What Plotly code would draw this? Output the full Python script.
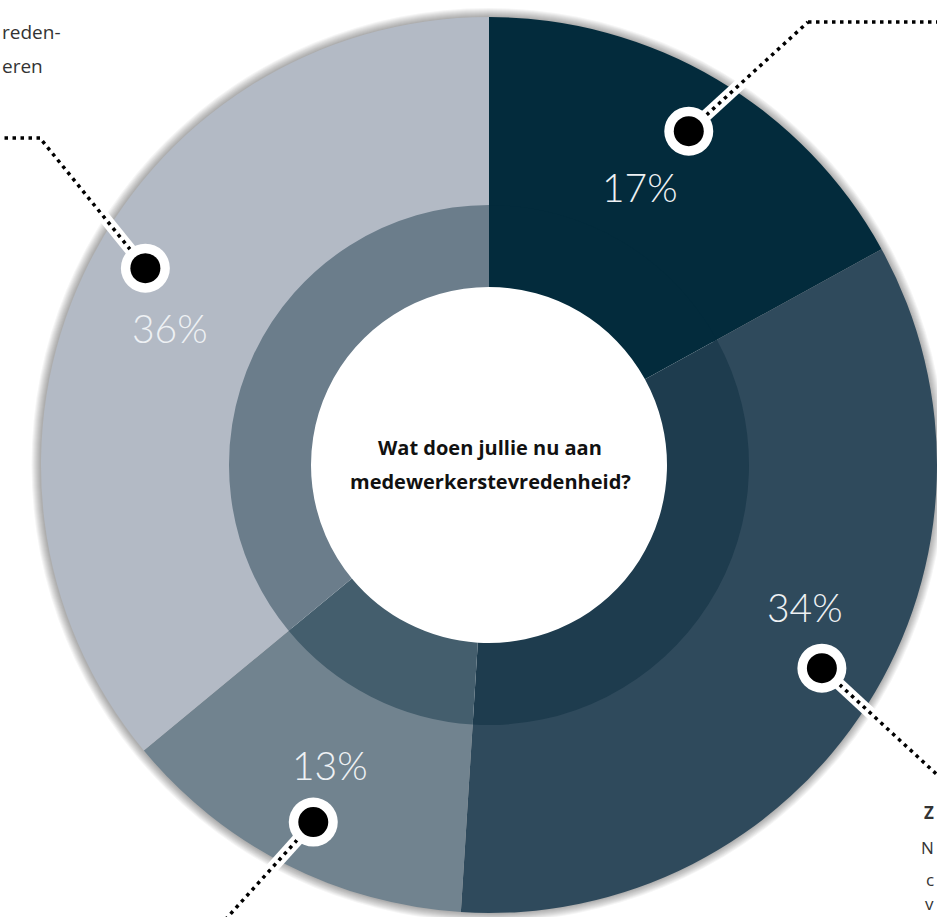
import math
import plotly.graph_objects as go

# --- data -------------------------------------------------------------------
labels = ["A", "B", "C", "D"]
shares = [17, 34, 13, 36]
pct_text = ["17%", "34%", "13%", "36%"]
outer_colors = ["#032b3c", "#2f4a5c", "#71838f", "#b3bac5"]
inner_colors = ["#032b3c", "#1e3c4e", "#445e6d", "#6b7d8b"]
center_lines = ["Wat doen jullie nu aan", "medewerkerstevredenheid?"]

# --- geometry (pixels) -------------------------------------------------------
W, H = 937, 917
CX, CY = 489, 465
R_OUT, R_IN, R_HOLE = 448, 260, 178

# callout placement per slice: (angle nudge from slice middle in degrees, radius)
callout_pos = [(0.3, 389), (-1.0, 390), (-0.8, 398), (4.6, 396)]
# leader routes: elbow point and end point for each callout
routes = [
    [(808, 22), (960, 22)],
    [(945, 782)],
    [(225, 920)],
    [(40, 138), (-20, 138)],
]
label_offsets = [(-49, 56), (-17, -61), (17, -57), (25, 60)]


def px(x):
    return x / W


def py(y):
    return 1 - y / H


def domain(r):
    return dict(x=[px(CX - r), min(1.0, px(CX + r))], y=[py(CY + r), py(CY - r)])


fig = go.Figure()
fig.add_trace(go.Pie(
    labels=labels, values=shares, sort=False, direction="clockwise", rotation=0,
    hole=(R_IN - 4) / R_OUT, domain=domain(R_OUT),
    marker=dict(colors=outer_colors, line=dict(width=0)),
    textinfo="none", hoverinfo="skip", showlegend=False,
))
fig.add_trace(go.Pie(
    labels=labels, values=shares, sort=False, direction="clockwise", rotation=0,
    hole=R_HOLE / R_IN, domain=domain(R_IN),
    marker=dict(colors=inner_colors, line=dict(width=0)),
    textinfo="none", hoverinfo="skip", showlegend=False,
))

shapes = []
# soft shadow around the outer ring
for k in range(1, 10):
    r = R_OUT + k
    shapes.append(dict(type="circle", xref="paper", yref="paper", layer="below",
                       x0=px(CX - r - 0.5), x1=px(CX + r - 0.5),
                       y0=py(CY + r), y1=py(CY - r),
                       fillcolor="rgba(0,0,0,0.04)", line=dict(width=0)))
# keep the centre white above the shadow
shapes.append(dict(type="circle", xref="paper", yref="paper", layer="below",
                   x0=px(CX - R_IN), x1=px(CX + R_IN), y0=py(CY + R_IN), y1=py(CY - R_IN),
                   fillcolor="white", line=dict(width=0)))

# callout positions around each slice's mid angle
total = sum(shares)
marks = []
acc = 0
for v, (nudge, rad) in zip(shares, callout_pos):
    a = math.radians((acc + v / 2) / total * 360 + nudge)
    marks.append((CX + rad * math.sin(a), CY - rad * math.cos(a)))
    acc += v

for (mx, my), route in zip(marks, routes):
    pts = [(mx, my)] + route
    for (x0, y0), (x1, y1) in zip(pts[:-1], pts[1:]):
        shapes.append(dict(type="line", xref="paper", yref="paper", layer="above",
                           x0=px(x0), y0=py(y0), x1=px(x1), y1=py(y1),
                           line=dict(color="white", width=12)))
    for (x0, y0), (x1, y1) in zip(pts[:-1], pts[1:]):
        shapes.append(dict(type="line", xref="paper", yref="paper", layer="above",
                           x0=px(x0), y0=py(y0), x1=px(x1), y1=py(y1),
                           line=dict(color="black", width=3.5, dash="3.5px,4.5px")))
for mx, my in marks:
    for r, col in ((24.5, "white"), (15, "black")):
        shapes.append(dict(type="circle", xref="paper", yref="paper", layer="above",
                           x0=px(mx - r), x1=px(mx + r), y0=py(my + r), y1=py(my - r),
                           fillcolor=col, line=dict(width=0)))

annotations = []
for (mx, my), (dx, dy), t in zip(marks, label_offsets, pct_text):
    annotations.append(dict(xref="paper", yref="paper", x=px(mx + dx), y=py(my + dy),
                            text=t, showarrow=False, xanchor="center", yanchor="middle",
                            font=dict(family="Lato", size=39, color="#eef1f4", weight=300)))

for i, line in enumerate(center_lines):
    annotations.append(dict(xref="paper", yref="paper", x=px(490), y=py(448 + 33 * i),
                            text=line, showarrow=False, xanchor="center", yanchor="middle",
                            font=dict(family="Open Sans", size=20, color="#111111",
                                      weight="bold")))

# side notes along the edges
side_notes = [
    ("reden-", 0, 32, "left", "middle", "normal", 19),
    ("eren", 0, 66, "left", "middle", "normal", 19),
    ("Z", 936, 812, "right", "middle", "bold", 17),
    ("N", 936, 847, "right", "middle", "normal", 17),
    ("c", 936, 879, "right", "middle", "normal", 17),
    ("v", 936, 917, "right", "bottom", "normal", 17),
]
for t, x, y, xa, ya, wt, sz in side_notes:
    annotations.append(dict(xref="paper", yref="paper", x=px(x), y=py(y), text=t,
                            showarrow=False, xanchor=xa, yanchor=ya,
                            font=dict(family="Open Sans", size=sz, color="#333333", weight=wt)))

fig.update_layout(
    width=W, height=H, margin=dict(l=0, r=0, t=0, b=0),
    paper_bgcolor="white", plot_bgcolor="white", showlegend=False,
    shapes=shapes, annotations=annotations,
)
fig.write_html("out.html")
